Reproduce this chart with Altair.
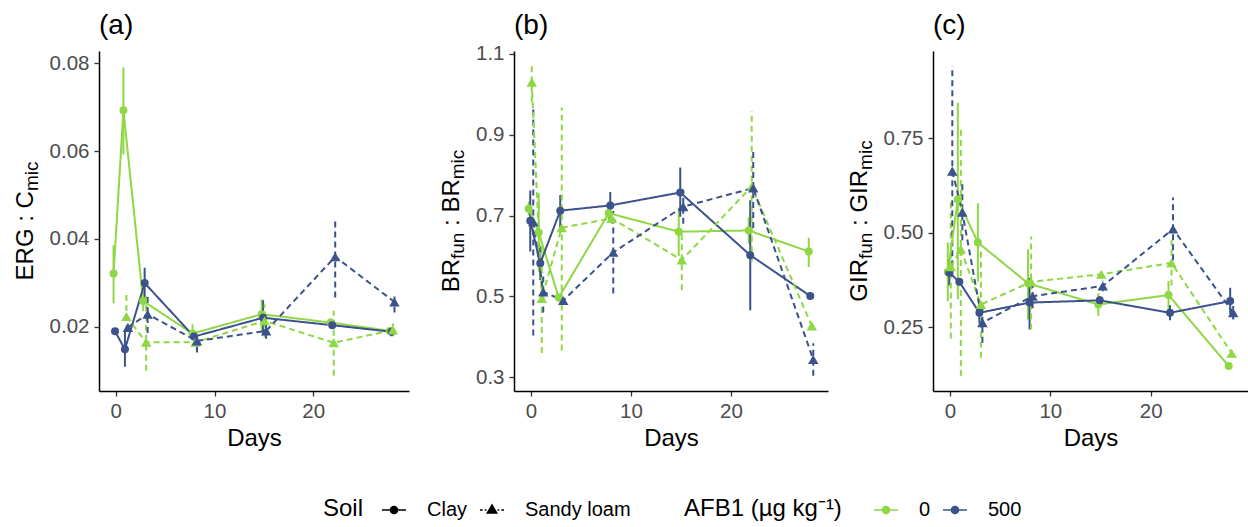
import altair as alt
import pandas as pd

FONT = "Liberation Sans"
GREEN = "#8FD744"
BLUE = "#3B528B"

DAYS = [0, 1, 3, 8, 15, 22, 28]
SOILS = ["Clay", "Sandy loam"]
AFB1 = ["0", "500"]

# ---------- panel (a): ERG : Cmic ----------
A_CLAY0_MEAN = [0.0321, 0.0693, 0.0258, 0.0184, 0.0228, 0.0209, 0.0190]
A_CLAY0_LO = [0.0253, 0.0592, 0.0235, 0.0168, 0.0190, 0.0200, 0.0182]
A_CLAY0_HI = [0.0385, 0.0791, 0.0281, 0.0205, 0.0262, 0.0218, 0.0198]
A_CLAY500_MEAN = [0.0189, 0.0148, 0.0299, 0.0177, 0.0220, 0.0203, 0.0188]
A_CLAY500_LO = [0.0183, 0.0108, 0.0265, 0.0170, 0.0180, 0.0197, 0.0178]
A_CLAY500_HI = [0.0195, 0.0190, 0.0334, 0.0185, 0.0260, 0.0209, 0.0198]
A_SANDY0_MEAN = [None, 0.0223, 0.0164, 0.0164, 0.0213, 0.0163, 0.0192]
A_SANDY0_LO = [None, 0.0190, 0.0099, 0.0158, 0.0175, 0.0088, 0.0178]
A_SANDY0_HI = [None, 0.0274, 0.0270, 0.0172, 0.0250, 0.0236, 0.0207]
A_SANDY500_MEAN = [None, 0.0198, 0.0228, 0.0167, 0.0190, 0.0359, 0.0256]
A_SANDY500_LO = [None, 0.0190, 0.0185, 0.0141, 0.0172, 0.0266, 0.0232]
A_SANDY500_HI = [None, 0.0206, 0.0272, 0.0175, 0.0208, 0.0448, 0.0276]

# ---------- panel (b): BRfun : BRmic ----------
B_CLAY0_MEAN = [0.717, 0.658, 0.497, 0.706, 0.660, 0.663, 0.611]
B_CLAY0_LO = [0.700, 0.561, 0.487, 0.685, 0.600, 0.630, 0.573]
B_CLAY0_HI = [0.735, 0.755, 0.507, 0.727, 0.720, 0.696, 0.645]
B_CLAY500_MEAN = [0.687, 0.582, 0.712, 0.725, 0.757, 0.602, 0.501]
B_CLAY500_LO = [0.611, 0.540, 0.670, 0.692, 0.697, 0.466, 0.494]
B_CLAY500_HI = [0.762, 0.625, 0.751, 0.758, 0.819, 0.738, 0.508]
B_SANDY0_MEAN = [1.030, 0.495, 0.670, 0.693, 0.590, 0.772, 0.427]
B_SANDY0_LO = [0.980, 0.360, 0.366, 0.680, 0.515, 0.586, 0.417]
B_SANDY0_HI = [1.078, 0.630, 0.967, 0.706, 0.665, 0.958, 0.437]
B_SANDY500_MEAN = [0.685, 0.511, 0.490, 0.609, 0.722, 0.768, 0.344]
B_SANDY500_LO = [0.403, 0.460, 0.480, 0.507, 0.680, 0.669, 0.304]
B_SANDY500_HI = [0.967, 0.560, 0.500, 0.711, 0.764, 0.867, 0.384]

# ---------- panel (c): GIRfun : GIRmic ----------
C_CLAY0_MEAN = [0.396, 0.588, 0.474, 0.366, 0.310, 0.335, 0.147]
C_CLAY0_LO = [0.319, 0.324, 0.370, 0.270, 0.280, 0.298, 0.140]
C_CLAY0_HI = [0.474, 0.844, 0.578, 0.456, 0.340, 0.372, 0.154]
C_CLAY500_MEAN = [0.394, 0.370, 0.288, 0.315, 0.321, 0.288, 0.319]
C_CLAY500_LO = [0.360, 0.360, 0.260, 0.244, 0.310, 0.268, 0.284]
C_CLAY500_HI = [0.430, 0.380, 0.316, 0.380, 0.332, 0.308, 0.354]
C_SANDY0_MEAN = [0.410, 0.456, 0.310, 0.370, 0.390, 0.420, 0.181]
C_SANDY0_LO = [0.220, 0.121, 0.169, 0.244, 0.380, 0.360, 0.170]
C_SANDY0_HI = [0.590, 0.782, 0.450, 0.490, 0.400, 0.480, 0.192]
C_SANDY500_MEAN = [0.663, 0.554, 0.262, 0.332, 0.359, 0.510, 0.288]
C_SANDY500_LO = [0.385, 0.480, 0.209, 0.300, 0.345, 0.427, 0.270]
C_SANDY500_HI = [0.941, 0.628, 0.315, 0.360, 0.373, 0.593, 0.306]


def make_df(series):
    rows = []
    for (soil, afb), (m, lo, hi) in series.items():
        for d, mm, l, h in zip(DAYS, m, lo, hi):
            if mm is None:
                continue
            rows.append(dict(day=d, soil=soil, afb=afb, mean=mm, lo=l, hi=h))
    return pd.DataFrame(rows)


DF_A = make_df({
    ("Clay", "0"): (A_CLAY0_MEAN, A_CLAY0_LO, A_CLAY0_HI),
    ("Clay", "500"): (A_CLAY500_MEAN, A_CLAY500_LO, A_CLAY500_HI),
    ("Sandy loam", "0"): (A_SANDY0_MEAN, A_SANDY0_LO, A_SANDY0_HI),
    ("Sandy loam", "500"): (A_SANDY500_MEAN, A_SANDY500_LO, A_SANDY500_HI),
})
DF_B = make_df({
    ("Clay", "0"): (B_CLAY0_MEAN, B_CLAY0_LO, B_CLAY0_HI),
    ("Clay", "500"): (B_CLAY500_MEAN, B_CLAY500_LO, B_CLAY500_HI),
    ("Sandy loam", "0"): (B_SANDY0_MEAN, B_SANDY0_LO, B_SANDY0_HI),
    ("Sandy loam", "500"): (B_SANDY500_MEAN, B_SANDY500_LO, B_SANDY500_HI),
})
DF_C = make_df({
    ("Clay", "0"): (C_CLAY0_MEAN, C_CLAY0_LO, C_CLAY0_HI),
    ("Clay", "500"): (C_CLAY500_MEAN, C_CLAY500_LO, C_CLAY500_HI),
    ("Sandy loam", "0"): (C_SANDY0_MEAN, C_SANDY0_LO, C_SANDY0_HI),
    ("Sandy loam", "500"): (C_SANDY500_MEAN, C_SANDY500_LO, C_SANDY500_HI),
})

# position_dodge-like shift of the four groups
DODGE = ("datum.day + (datum.soil === 'Clay' ? (datum.afb === '0' ? -0.225 : -0.075)"
         " : (datum.afb === '0' ? 0.075 : 0.225))")

H = 340
MAIN_FS = 24
SUB_FS = 19
AW = {'E': 667, 'R': 722, 'G': 778, 'C': 722, 'B': 667, 'I': 278, ' ': 278, ':': 278,
      'm': 833, 'i': 222, 'c': 500, 'f': 278, 'u': 556, 'n': 556}


def tw(s, fs):
    return sum(AW[ch] for ch in s) / 1000.0 * fs


def ytitle(pieces, bx):
    sizes = {"main": MAIN_FS, "sub": SUB_FS, "gap": MAIN_FS}
    total = sum(tw(t, sizes[k]) for t, k in pieces)
    y0 = H / 2 + total / 2
    layers = []
    for t, k in pieces:
        fs = sizes[k]
        if k != "gap":
            layers.append(
                alt.Chart(pd.DataFrame({"t": [t]})).mark_text(
                    angle=270, align="left", baseline="alphabetic", fontSize=fs,
                    font=FONT, color="black"
                ).encode(x=alt.value(bx + (5 if k == "sub" else 0)), y=alt.value(y0), text="t:N")
            )
        y0 -= tw(t, fs)
    return layers


# legend glyphs (line + marker); markers built from nested outlines so a stroked path looks filled
def _circles(rs):
    return "".join(f"M{r},0A{r},{r},0,1,1,{-r},0A{r},{r},0,1,1,{r},0" for r in rs)


def _tris(ss):
    return "".join(f"M0,{-s}L{0.95 * s:.3f},{0.62 * s:.3f}L{-0.95 * s:.3f},{0.62 * s:.3f}Z" for s in ss)


P_CLAY = "M-1,0L1,0" + _circles([0.05, 0.11, 0.17, 0.23, 0.29])
P_SANDY = ("M-1,0L-0.78,0M-0.6,0L-0.46,0M0.46,0L0.6,0M0.78,0L1,0"
           + _tris([0.08, 0.16, 0.24, 0.32, 0.4]))

LEG_COMMON = dict(
    orient="none", legendY=446, direction="horizontal",
    titleOrient="left", titleFontSize=24, titleFont=FONT, titleFontWeight="normal",
    titleColor="black", labelFontSize=20, labelFont=FONT,
    labelColor="black", labelOffset=20, columnPadding=8, symbolSize=576,
    symbolStrokeWidth=1.7, symbolOpacity=1,
)
soil_legend = alt.Legend(title="Soil", legendX=224, titlePadding=17, symbolStrokeColor="black", **LEG_COMMON)
afb_legend = alt.Legend(title="AFB1 (µg kg⁻¹)", legendX=585, titlePadding=31, symbolType=P_CLAY,
                        **LEG_COMMON)

CSCALE = alt.Scale(domain=AFB1, range=[GREEN, BLUE])
color_plain = alt.Color("afb:N", scale=CSCALE, legend=None)
color_leg = alt.Color("afb:N", scale=CSCALE, legend=afb_legend)
dash = alt.StrokeDash("soil:N", scale=alt.Scale(domain=SOILS, range=[[1, 0], [6, 4]]), legend=None)
shape_leg = alt.Shape("soil:N", scale=alt.Scale(domain=SOILS, range=[P_CLAY, P_SANDY]), legend=soil_legend)


def panel(df, ydomain, yticks, yfmt, pieces, title_bx, tag, width, with_legend=False):
    base = alt.Chart(df).transform_calculate(dx=DODGE)
    xs = alt.Scale(domain=[-1.7, 29.7], nice=False, zero=False)
    ys = alt.Scale(domain=ydomain, nice=False, zero=False)
    xaxis = alt.Axis(title="Days", values=[0, 10, 20], format="d")
    yaxis = alt.Axis(title=None, values=yticks, format=yfmt)
    X = alt.X("dx:Q", scale=xs, axis=xaxis)
    Y = alt.Y("mean:Q", scale=ys, axis=yaxis)
    err = base.mark_rule(strokeWidth=2).encode(
        x=X, y=alt.Y("lo:Q", scale=ys, axis=yaxis), y2="hi:Q",
        color=color_plain, strokeDash=dash,
    )
    line = base.mark_line(strokeWidth=2).encode(x=X, y=Y, color=color_plain, strokeDash=dash)
    circ = base.transform_filter("datum.soil === 'Clay'").mark_point(
        filled=True, opacity=1, shape="circle", size=64).encode(x=X, y=Y, color=color_plain)
    tri = base.transform_filter("datum.soil !== 'Clay'").mark_point(
        filled=True, opacity=1, shape="triangle-up", size=110).encode(x=X, y=Y, color=color_plain)
    tag_txt = alt.Chart(pd.DataFrame({"t": [tag]})).mark_text(
        align="left", baseline="alphabetic", fontSize=28, font=FONT, color="black"
    ).encode(x=alt.value(0), y=alt.value(-17), text="t:N")
    layers = [err, line, circ, tri]
    if with_legend:
        # legend-only layers (no rows drawn)
        empty = base.transform_filter("false")
        layers.append(empty.mark_point(filled=False, color="black", strokeWidth=1.7, opacity=1).encode(
            x=X, y=Y, shape=shape_leg))
        layers.append(empty.mark_point(filled=False, shape=P_CLAY, strokeWidth=1.7, opacity=1).encode(
            x=X, y=Y, color=color_leg))
    layers += [tag_txt] + ytitle(pieces, title_bx)
    ch = alt.layer(*layers).properties(width=width, height=H)
    return ch.resolve_legend(color="independent", shape="independent", strokeDash="independent")


pa = panel(DF_A, [0.0053, 0.0828], [0.02, 0.04, 0.06, 0.08], ".2f",
           [("ERG", "main"), (" ", "gap"), (":", "main"), (" ", "gap"), ("C", "main"), ("mic", "sub")],
           -66, "(a)", 310, with_legend=True)
pb = panel(DF_B, [0.266, 1.107], [0.3, 0.5, 0.7, 0.9, 1.1], ".1f",
           [("BR", "main"), ("fun", "sub"), (" ", "gap"), (":", "main"), (" ", "gap"), ("BR", "main"), ("mic", "sub")],
           -55, "(b)", 314)
pc = panel(DF_C, [0.081, 0.981], [0.25, 0.5, 0.75], ".2f",
           [("GIR", "main"), ("fun", "sub"), (" ", "gap"), (":", "main"), (" ", "gap"), ("GIR", "main"), ("mic", "sub")],
           -66, "(c)", 315)

chart = alt.hconcat(pa, pb, pc, spacing=105, bounds="flush").resolve_legend(
    color="independent", shape="independent", strokeDash="independent"
).properties(
    padding={"left": 13, "top": 12, "right": 0, "bottom": 0},
    background="white",
).configure_view(stroke=None).configure_axis(
    grid=False, domainColor="black", domainWidth=1.5, tickColor="#333333", tickWidth=1.3,
    tickSize=5, labelFont=FONT, labelFontSize=20.5, labelColor="#4D4D4D", labelPadding=5,
    titleFont=FONT, titleFontSize=24, titleFontWeight="normal", titleColor="black",
    titlePadding=5,
).configure_text(font=FONT)

chart.save("out.html", embed_options={"renderer": "svg", "actions": False})
